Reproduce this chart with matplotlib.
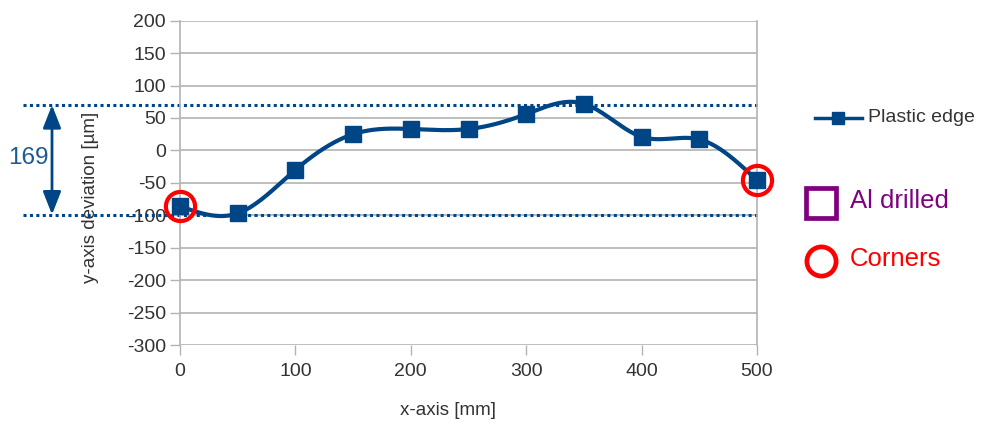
import numpy as np
import matplotlib
matplotlib.use("Agg")
import matplotlib.pyplot as plt
from matplotlib.patches import FancyArrowPatch
from matplotlib.lines import Line2D
import matplotlib.transforms as mtransforms

plt.rcParams['font.family'] = ['Liberation Sans', 'DejaVu Sans']
plt.rcParams['axes.unicode_minus'] = False

# ---- data ----
x_mm = [0, 50, 100, 150, 200, 250, 300, 350, 400, 450, 500]
y_dev = [-86, -97, -30, 25, 33, 33, 56, 72, 21, 17, -46]
corner_x = [0, 500]
corner_y = [-86, -46]
band_top = 70
band_bottom = -99
band_label = "169"
series_name = "Plastic edge"
yticks = list(range(-300, 201, 50))
xticks = list(range(0, 501, 100))

W, H = 985, 426
fig = plt.figure(figsize=(W / 100, H / 100), dpi=100)

def fx(px):
    return px / W

def fy(py):
    return 1 - py / H

AX_L, AX_R, AX_T, AX_B = 180, 757, 20.7, 345
ax = fig.add_axes([fx(AX_L), fy(AX_B), (AX_R - AX_L) / W, (AX_B - AX_T) / H])

blue = '#004586'
grid_c = '#b3b3b3'
txt_c = '#333333'


def natural_spline(x, y, xs):
    x = np.asarray(x, float)
    y = np.asarray(y, float)
    n = len(x)
    h = np.diff(x)
    A = np.zeros((n, n))
    b = np.zeros(n)
    A[0, 0] = 1
    A[-1, -1] = 1
    for i in range(1, n - 1):
        A[i, i - 1] = h[i - 1]
        A[i, i] = 2 * (h[i - 1] + h[i])
        A[i, i + 1] = h[i]
        b[i] = 6 * ((y[i + 1] - y[i]) / h[i] - (y[i] - y[i - 1]) / h[i - 1])
    M = np.linalg.solve(A, b)
    idx = np.clip(np.searchsorted(x, xs) - 1, 0, n - 2)
    x0, x1 = x[idx], x[idx + 1]
    hh = x1 - x0
    t0 = x1 - xs
    t1 = xs - x0
    return (M[idx] * t0 ** 3 / (6 * hh) + M[idx + 1] * t1 ** 3 / (6 * hh)
            + (y[idx] / hh - M[idx] * hh / 6) * t0
            + (y[idx + 1] / hh - M[idx + 1] * hh / 6) * t1)


xs = np.linspace(min(x_mm), max(x_mm), 600)
ys = natural_spline(x_mm, y_dev, xs)
ax.plot(xs, ys, color=blue, lw=3.0, zorder=3, solid_capstyle='round', clip_on=False)
ax.plot(x_mm, y_dev, ls='none', marker='s', ms=11, color=blue, zorder=4, clip_on=False)

# corner circles
ax.plot(corner_x, corner_y, ls='none', marker='o', ms=21, mfc='none',
        mec='#ff0000', mew=3.0, zorder=5, clip_on=False)

ax.set_xlim(0, 500)
ax.set_ylim(-300, 200)
ax.set_yticks(yticks)
ax.set_xticks(xticks)
ax.yaxis.grid(True, color=grid_c, lw=1.2)
ax.set_axisbelow(True)
for s in ['top', 'bottom']:
    ax.spines[s].set_visible(False)
for s in ['left', 'right']:
    ax.spines[s].set_color(grid_c)
    ax.spines[s].set_linewidth(1.2)
ax.tick_params(axis='y', direction='out', length=7, width=1.0, color=grid_c,
               labelsize=14, labelcolor=txt_c, pad=3)
ax.tick_params(axis='x', direction='out', length=7, width=1.0, color=grid_c,
               labelsize=14, labelcolor=txt_c, pad=6)
ax.set_ylabel('y-axis deviation [µm]', fontsize=13.5, color=txt_c)
ax.yaxis.set_label_coords((99 - AX_L) / (AX_R - AX_L), (AX_B - 197.5) / (AX_B - AX_T))
ax.set_xlabel('x-axis [mm]', fontsize=13.5, color=txt_c)
ax.xaxis.set_label_coords((448 - AX_L) / (AX_R - AX_L), -(402 - AX_B) / (AX_B - AX_T))

# dotted band lines
trans = mtransforms.blended_transform_factory(fig.transFigure, ax.transData)
for yv in (band_top, band_bottom):
    ax.plot([fx(23), fx(757)], [yv, yv], transform=trans, color=blue,
            lw=2.2, ls=(0, (1, 1.1)), clip_on=False, zorder=2)

# arrow
y_top_px = ax.transData.transform((0, band_top))[1]
y_bot_px = ax.transData.transform((0, band_bottom))[1]
arr = FancyArrowPatch((fx(52), y_top_px / H), (fx(52), y_bot_px / H),
                      transform=fig.transFigure,
                      arrowstyle='<|-|>,head_length=14,head_width=5.5',
                      mutation_scale=1, color=blue, lw=2.0, shrinkA=0, shrinkB=0)
fig.add_artist(arr)
fig.text(fx(28), fy(158), band_label, fontsize=17.5, color='#1c5a94',
         ha='center', va='center')

# legend (series)
fig.add_artist(Line2D([fx(815), fx(862)], [fy(118), fy(118)], color=blue, lw=2.5))
fig.add_artist(Line2D([fx(838)], [fy(118)], marker='s', ms=8.5, color=blue, ls='none'))
fig.text(fx(868), fy(118), series_name, fontsize=14, color=txt_c, va='center', ha='left')

# annotation legend
fig.add_artist(Line2D([fx(821)], [fy(203)], marker='s', ms=21, mfc='none',
                      mec='#800080', mew=3.4, ls='none'))
fig.text(fx(850), fy(201), 'Al drilled', fontsize=18.5, color='#800080', va='center', ha='left')
fig.add_artist(Line2D([fx(821)], [fy(261)], marker='o', ms=21, mfc='none',
                      mec='#ff0000', mew=3.4, ls='none'))
fig.text(fx(850), fy(259), 'Corners', fontsize=18.5, color='#ff0000', va='center', ha='left')

fig.savefig('out.png', dpi=100)
